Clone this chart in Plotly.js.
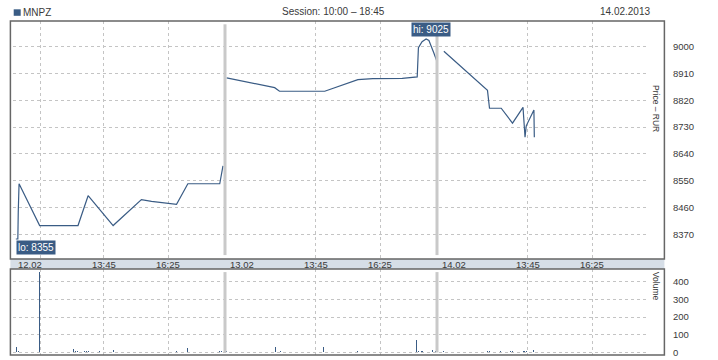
<!DOCTYPE html>
<html>
<head>
<meta charset="utf-8">
<script src="https://cdn.plot.ly/plotly-3.0.1.min.js"></script>
<style>html,body{margin:0;padding:0;background:#fff;}#chart{width:718px;height:360px;}</style>
</head>
<body>
<div id="chart"></div>
<script>
// ---- data ----
const ticker = 'MNPZ';
const sessionText = 'Session: 10:00 – 18:45';
const dateText = '14.02.2013';
const dayLabels = ['12.02', '13.02', '14.02'];
const timeTickLabels = ['13:45', '16:25'];
const extraGridTimes = ['11:08'];
const priceTicks = [8370, 8460, 8550, 8640, 8730, 8820, 8910, 9000];
const volumeTicks = [0, 100, 200, 300, 400];

const day1Times  = ['10:07','10:12','10:13','10:15','11:06','12:41','13:06','14:08','15:18','15:43','16:45','17:13','18:32','18:40'];
const day1Prices = [8355, 8355, 8445, 8540, 8400, 8400, 8500, 8400, 8487, 8481, 8471, 8540, 8540, 8600];
const day2Times  = ['10:04','12:03','12:15','14:07','15:29','16:06','17:19','17:56','17:59','18:08','18:18','18:25','18:37','18:44'];
const day2Prices = [8895, 8862, 8850, 8850, 8889, 8892, 8893, 8898, 8996, 9016, 9025, 9020, 8979, 8953];
const day3Times  = ['10:17','10:59','12:05','12:10','12:39','13:07','13:33','13:38','13:41','14:00','14:01'];
const day3Prices = [8984, 8934, 8853, 8793, 8793, 8743, 8796, 8696, 8734, 8787, 8696];

const day1VolTimes = ['10:08','10:14','11:06','12:29','12:34','12:39','12:58','13:01','13:06','13:33','14:08','15:17','16:45','17:13','18:32','18:36','18:40'];
const day1Volumes  = [32, 8, 455, 19, 8, 8, 8, 8, 8, 5, 13, 8, 8, 26, 8, 8, 8];
const day2VolTimes = ['10:03','12:04','12:18','14:04','15:29','17:55','17:58','18:07','18:10','18:33','18:42'];
const day2Volumes  = [5, 32, 5, 32, 8, 70, 5, 8, 8, 13, 5];
const day3VolTimes = ['10:17','12:06','12:10','12:38','13:02','13:07','13:33','13:37','13:41','14:00'];
const day3Volumes  = [8, 8, 8, 5, 8, 8, 10, 10, 8, 13];

// ---- helpers ----
const toMin = t => { const [h, m] = t.split(':').map(Number); return (h - 10) * 60 + m; };
const DAY = toMin('18:45');
const days = [[day1Times, day1Prices], [day2Times, day2Prices], [day3Times, day3Prices]];
const vdays = [[day1VolTimes, day1Volumes], [day2VolTimes, day2Volumes], [day3VolTimes, day3Volumes]];

const px_ = [], py_ = [];
days.forEach(([ts, ps], d) => {
  ts.forEach((t, i) => { px_.push(d * DAY + toMin(t)); py_.push(ps[i]); });
  px_.push(null); py_.push(null);
});
const vx = [], vy = [];
vdays.forEach(([ts, vs], d) => ts.forEach((t, i) => { vx.push(d * DAY + toMin(t)); vy.push(vs[i]); }));

const W = 718, H = 360, L = 13.3, R = 68.7, T = 20.7, B = 5;
const PW = W - L - R, PH = H - T - B;
const X = x => (x - L) / PW;
const Y = y => (H - B - y) / PH;

const BLUE = '#3a5c85';
const FONT = 'Liberation Sans, Arial, sans-serif';
const TXT = '#3a3a3a';

// gridlines
const gridVals = [];
extraGridTimes.forEach(t => gridVals.push(toMin(t)));
for (let d = 0; d < 3; d++) timeTickLabels.forEach(t => gridVals.push(d * DAY + toMin(t)));

// hi / lo
let hiI = 0, loI = 0;
py_.forEach((v, i) => { if (v === null) return; if (v > py_[hiI]) hiI = i; if (v < py_[loI]) loI = i; });

const shapes = [];
shapes.push({type:'rect', xref:'paper', yref:'paper', x0:X(10.7), x1:X(664.7), y0:Y(269), y1:Y(259), fillcolor:'#d6dee7', line:{width:0}, layer:'below'});
shapes.push({type:'rect', xref:'paper', yref:'paper', x0:X(10.7), x1:X(664.7), y0:Y(259), y1:Y(20.7), line:{color:'#666', width:1.5}});
shapes.push({type:'rect', xref:'paper', yref:'paper', x0:X(10.7), x1:X(664.7), y0:Y(355), y1:Y(269), line:{color:'#666', width:1.5}});
shapes.push({type:'rect', xref:'paper', yref:'paper', x0:X(14), x1:X(21), y0:Y(15.5), y1:Y(9), fillcolor:BLUE, line:{width:0}});
for (let d = 1; d < 3; d++) {
  shapes.push({type:'line', xref:'x', yref:'paper', x0:d*DAY, x1:d*DAY, y0:Y(255), y1:Y(24), line:{color:'#c9c9c9', width:3}});
  shapes.push({type:'line', xref:'x', yref:'paper', x0:d*DAY, x1:d*DAY, y0:Y(352.5), y1:Y(272), line:{color:'#c9c9c9', width:3}});
}

const annotations = [];
const hdr = {size:10, color:TXT, family:FONT};
annotations.push({xref:'paper', yref:'paper', x:X(21.5), y:Y(12), text:ticker, showarrow:false, xanchor:'left', yanchor:'middle', font:hdr});
annotations.push({xref:'paper', yref:'paper', x:X(333.5), y:Y(11.5), text:sessionText, showarrow:false, xanchor:'center', yanchor:'middle', font:hdr});
annotations.push({xref:'paper', yref:'paper', x:X(652.5), y:Y(11.5), text:dateText, showarrow:false, xanchor:'right', yanchor:'middle', font:hdr});
dayLabels.forEach((lab, d) => {
  annotations.push({xref:'x', yref:'paper', x:d*DAY, xshift:3, y:Y(264), text:lab, showarrow:false, xanchor:'left', yanchor:'middle', font:{size:9.5, color:TXT, family:FONT}});
  timeTickLabels.forEach(t => annotations.push({xref:'x', yref:'paper', x:d*DAY+toMin(t), y:Y(264), text:t, showarrow:false, xanchor:'center', yanchor:'middle', font:{size:9.5, color:TXT, family:FONT}}));
});
annotations.push({xref:'paper', yref:'paper', x:X(656.5), y:Y(108), text:'Price – RUR', textangle:90, showarrow:false, xanchor:'center', yanchor:'middle', font:{size:8.5, color:TXT, family:FONT}});
annotations.push({xref:'paper', yref:'paper', x:X(656.5), y:Y(286), text:'Volume', textangle:90, showarrow:false, xanchor:'center', yanchor:'middle', font:{size:8.5, color:TXT, family:FONT}});
annotations.push({xref:'x', yref:'y', x:px_[hiI], y:py_[hiI], text:'hi: ' + py_[hiI], showarrow:false, xanchor:'center', yanchor:'bottom', xshift:5, yshift:2, bgcolor:BLUE, borderpad:1, font:{size:10, color:'#fff', family:FONT}});
annotations.push({xref:'x', yref:'y', x:px_[loI], y:py_[loI], text:'lo: ' + py_[loI], showarrow:false, xanchor:'left', yanchor:'top', yshift:-1, bgcolor:BLUE, borderpad:1, font:{size:10, color:'#fff', family:FONT}});

const traces = [
  {type:'scatter', mode:'lines', x:px_, y:py_, line:{color:BLUE, width:1.2, shape:'linear'}, connectgaps:false, xaxis:'x', yaxis:'y', hoverinfo:'skip'},
  {type:'bar', x:vx, y:vy, width:2.4, marker:{color:BLUE, line:{width:0}}, xaxis:'x', yaxis:'y2', hoverinfo:'skip'}
];

const layout = {
  width:W, height:H,
  margin:{l:L, r:R, t:T, b:B, pad:0},
  paper_bgcolor:'#fff', plot_bgcolor:'#fff',
  showlegend:false,
  font:{family:FONT, size:9.5, color:TXT},
  xaxis:{range:[0, 3*DAY], tickvals:gridVals, showticklabels:false, ticks:'', showgrid:true, gridcolor:'#c4c4c4', griddash:'dot', gridwidth:1, zeroline:false, showline:false, anchor:'y2'},
  yaxis:{domain:[Y(259), 1], range:[8287.7, 9085.3], side:'right', tickvals:priceTicks, ticks:'outside', ticklen:21, tickcolor:'rgba(0,0,0,0)', showgrid:true, gridcolor:'#c4c4c4', griddash:'dot', zeroline:false, showline:false, tickfont:{size:9.5, color:TXT}},
  yaxis2:{domain:[0, Y(269)], range:[-15.3, 473.3], side:'right', tickvals:volumeTicks, ticks:'outside', ticklen:21, tickcolor:'rgba(0,0,0,0)', showgrid:true, gridcolor:'#c4c4c4', griddash:'dot', zeroline:false, showline:false, tickfont:{size:9.5, color:TXT}},
  shapes:shapes, annotations:annotations,
  bargap:0
};
Plotly.newPlot('chart', traces, layout, {staticPlot:true, displayModeBar:false});
</script>
</body>
</html>
